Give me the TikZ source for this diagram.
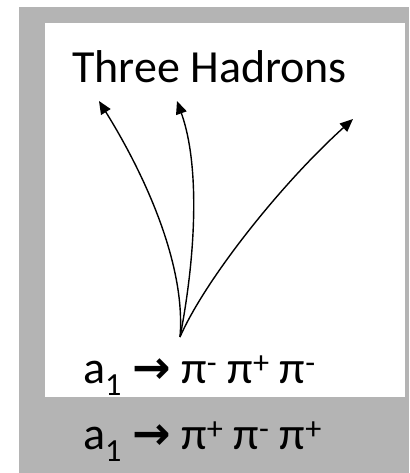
\documentclass[tikz,border=0pt]{standalone}
\usepackage{fontspec}
\setmainfont{Carlito}
\newfontfamily\arrowfont{DejaVu Sans}
\usetikzlibrary{arrows.meta}
\definecolor{panelgray}{RGB}{180,180,180}
\newcommand{\decayarrow}{{\arrowfont\bfseries →}}
\tikzset{
  label text/.style={anchor=base west,inner sep=0pt,font=\fontsize{46}{52}\selectfont},
  track/.style={line width=1.4pt,-{Triangle[length=13pt,width=11pt]}}
}
\begin{document}
\begin{tikzpicture}[x=1pt,y=-1pt]
        \useasboundingbox (0,0) rectangle (409,473);
        % sfondo grigio e pannello bianco
        \fill[panelgray] (19,7) rectangle (409,473);
        \fill[white] (45,23) rectangle (405,397);
        \node[label text] (title) at (72,83) {Three Hadrons};
        % vertice del decadimento e direzioni dei tre adroni
        \coordinate (O) at (180,337);
        \coordinate (H1) at (99,101);
        \coordinate (H2) at (177,101);
        \coordinate (H3) at (353,119);
        \draw[track] (O) .. controls (186,265) and (145,175) .. (H1);
        \draw[track] (O) .. controls (196,255) and (200,165) .. (H2);
        \draw[track] (O) .. controls (205,280) and (280,185) .. (H3);
        \node[label text] (minus) at (83,383)
            {a\textsubscript{1} \decayarrow{} π\textsuperscript{-} π\textsuperscript{+} π\textsuperscript{-}};
        \node[label text] (plus) at (83,449)
            {a\textsubscript{1} \decayarrow{} π\textsuperscript{+} π\textsuperscript{-} π\textsuperscript{+}};
    \end{tikzpicture}
\end{document}
